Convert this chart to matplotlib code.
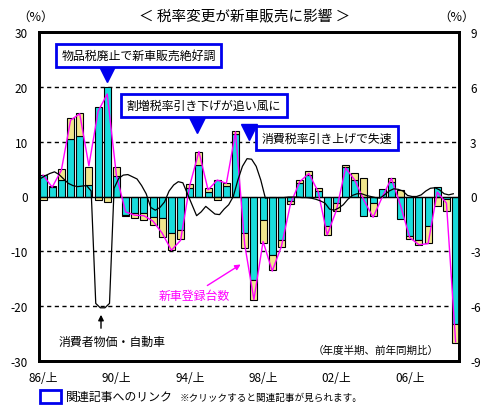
import numpy as np
import matplotlib
matplotlib.use("Agg")
import matplotlib.pyplot as plt
from matplotlib.patches import Rectangle

plt.rcParams['font.family'] = ['Noto Sans CJK JP', 'DejaVu Sans']

# ---- data (half-year periods FY86 first half .. FY08 second half) ----
cyan = [4.0, 1.7, 3.0, 10.5, 11.1, 2.1, 16.3, 20.0, 3.8, -3.3,
        -3.1, -3.1, -3.7, -4.0, -6.7, -6.1, 1.6, 5.8, 0.8, 3.0,
        1.9, 11.4, -6.7, -15.2, -4.3, -10.6, -7.9, -0.8, 2.4, 3.9,
        1.0, -5.4, -1.2, 5.3, 3.0, -3.5, -1.2, 1.4, 2.6, -4.1,
        -7.2, -8.0, -5.4, 1.7, -0.5, -23.3]
yellow = [-0.6, 0.2, 2.0, 3.8, 4.1, 3.3, -0.6, -1.0, 1.6, -0.3,
          -0.9, -1.2, -1.5, -3.3, -3.1, -1.7, 0.6, 2.4, 0.7, -0.6,
          0.5, 0.6, -2.7, -3.6, -4.2, -2.8, -1.3, -0.6, 0.6, 0.7,
          0.5, -1.6, -1.5, 0.5, 1.3, 3.3, -2.3, 0.0, 0.8, 1.1,
          -0.6, -0.8, -3.0, -1.7, -2.1, -3.4]
registrations = [3.9, 1.7, 4.8, 13.9, 15.1, 5.6, 15.5, 18.7, 3.9, -2.8,
                 -3.4, -3.5, -4.5, -6.7, -9.8, -8.0, 2.0, 8.2, 1.2, 3.0,
                 2.4, 11.8, -8.8, -18.8, -8.2, -13.6, -9.1, -1.3, 2.7, 4.2,
                 0.9, -7.0, -2.5, 5.2, 3.0, -0.7, -3.8, -0.1, 3.3, -1.7,
                 -7.5, -8.8, -8.6, 0.8, -1.2, -26.5]
# CPI automobiles, quarterly (right axis, %)
cpi_car = [0.99, 1.14, 1.26, 1.35, 1.2, 0.96, 0.72, 0.6, 0.54, 0.57, 0.6,
           0.3,
           -5.85, -6.09, -6.09, -5.85,
           0.45,
           0.99, 1.17, 1.2, 1.08, 0.96, 0.6,
           0.15, -0.6, -0.75, -0.6, -0.3, 0.3, 0.63, 0.81, 0.75,
           0.15, -0.45, -1.05, -0.84, -0.54, -0.75, -0.96, -0.99, -0.69, -0.45, 0.0,
           0.9, 1.65, 2.07, 2.04, 1.65, 0.9, -0.09,
           -0.06, -0.06, -0.06, -0.06, -0.03, -0.03, -0.03, -0.06, -0.06, -0.09, -0.15,
           -0.24, -0.36, -0.69, -0.75, -0.63, -0.45, -0.15,
           0.06, 0.15, 0.15, 0.06, 0.0, -0.06, -0.09,
           0.09, 0.3, 0.42, 0.39, 0.3, 0.06, 0.0, 0.0,
           0.09, 0.3, 0.45, 0.48, 0.36, 0.15, 0.09, 0.15]
xtick_labels = ["86/上", "90/上", "94/上", "98/上", "02/上", "06/上"]
left_ticks = [30, 20, 10, 0, -10, -20, -30]
right_ticks = [9, 6, 3, 0, -3, -6, -9]

W, H = 500, 410
fig = plt.figure(figsize=(W / 100, H / 100), dpi=100)
ax = fig.add_axes([39 / W, 1 - 362 / H, 420 / W, 329 / H])

x = np.arange(len(cyan))
c = np.array(cyan)
yv = np.array(yellow)
ybottom = np.where(np.sign(yv) == np.sign(c), c, 0.0)

ax.bar(x, c, width=0.76, color='#19DCDC', edgecolor='black', linewidth=0.8, zorder=3)
ax.bar(x, yv, bottom=ybottom, width=0.76, color='#F0E68C', edgecolor='black', linewidth=0.8, zorder=3)
ax.plot(x, registrations, color='#FF00FF', lw=1.0, zorder=5)

for v in [20, 10, -10, -20]:
    ax.axhline(v, color='black', lw=1.0, ls=(0, (3, 2.5)), zorder=1)
ax.axhline(0, color='black', lw=1.0, zorder=4)

ax.set_xlim(-0.44, 45.37)
ax.set_ylim(-30, 30)
ax.set_xticks(np.arange(len(xtick_labels)) * 8)
ax.set_xticklabels(xtick_labels, fontsize=8.5)
ax.set_yticks(left_ticks)
ax.set_yticklabels([str(t) for t in left_ticks], fontsize=8.5)
ax.tick_params(axis='both', length=0)
ax.tick_params(axis='y', pad=8)
ax.tick_params(axis='x', pad=7)
for s in ax.spines.values():
    s.set_linewidth(2)

ax2 = ax.twinx()
ax2.set_ylim(-9, 9)
qx = np.arange(len(cpi_car)) / 2 - 0.25
ax2.plot(qx, cpi_car, color='black', lw=0.9, zorder=6)
ax2.set_yticks(right_ticks)
ax2.set_yticklabels([str(t) for t in right_ticks], fontsize=8.5)
ax2.tick_params(axis='y', length=0, pad=8)
for s in ax2.spines.values():
    s.set_linewidth(2)

# pointer triangles
blue = '#0000EE'
ax.plot([7.0], [22.3], marker='v', ms=11, color=blue, clip_on=False, zorder=8)
ax.plot([16.8], [13.0], marker='v', ms=11, color=blue, clip_on=False, zorder=8)
ax.plot([22.45], [11.8], marker='v', ms=11, color=blue, clip_on=False, zorder=8)

def fx(px):
    return px / W

def fy(py):
    return 1 - py / H

def boxed(xc, yc, s):
    fig.text(fx(xc), fy(yc), s, ha='center', va='center', fontsize=8.6,
             bbox=dict(boxstyle='square,pad=0.45', fc='white', ec=blue, lw=2), zorder=10)

boxed(138.5, 56.5, "物品税廃止で新車販売絶好調")
boxed(204, 106.5, "割増税率引き下げが追い風に")
boxed(327, 139, "消費税率引き上げで失速")

# title and units
fig.text(fx(245), fy(17), "＜ 税率変更が新車販売に影響 ＞", ha='center', va='center', fontsize=10.5)
fig.text(fx(36), fy(17), "（%）", ha='center', va='center', fontsize=9)
fig.text(fx(457), fy(17), "（%）", ha='center', va='center', fontsize=9)

# labels on chart
fig.text(fx(194), fy(296), "新車登録台数", ha='center', va='center', fontsize=8.6, color='#FF00FF')
ax.annotate("", xy=(fx(243), fy(264)), xycoords='figure fraction',
            xytext=(fx(205), fy(288)), textcoords='figure fraction',
            arrowprops=dict(arrowstyle='-|>', color='#FF00FF', lw=1, mutation_scale=8))
fig.text(fx(112), fy(342), "消費者物価・自動車", ha='center', va='center', fontsize=8.6)
ax.annotate("", xy=(fx(101), fy(313)), xycoords='figure fraction',
            xytext=(fx(101), fy(332)), textcoords='figure fraction',
            arrowprops=dict(arrowstyle='-|>', color='black', lw=1, mutation_scale=8))
fig.text(fx(376), fy(351), "（年度半期、前年同期比）", ha='center', va='center', fontsize=7.6)

# bottom link legend
fig.add_artist(Rectangle((fx(40), fy(404)), 21 / W, 13 / H, fill=False, ec=blue, lw=2,
                         transform=fig.transFigure))
fig.text(fx(66), fy(397), "関連記事へのリンク", ha='left', va='center', fontsize=8.6)
fig.text(fx(180), fy(398), "※クリックすると関連記事が見られます。", ha='left', va='center', fontsize=6.9)

fig.savefig("out.png", dpi=100)
